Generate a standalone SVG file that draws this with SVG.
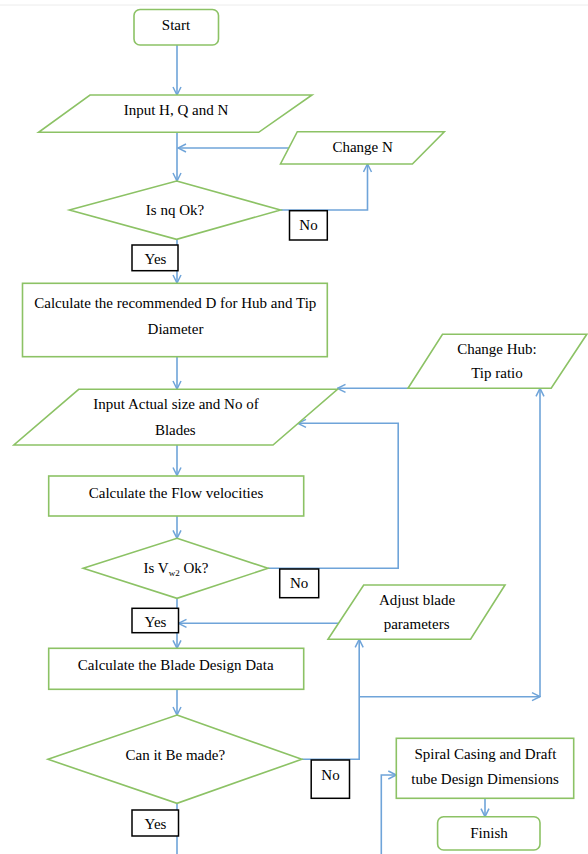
<svg xmlns="http://www.w3.org/2000/svg" width="588" height="854" viewBox="0 0 588 854">
<defs>
<style>
.n{fill:#fff;stroke:#8cc265;stroke-width:1.6}
.b{fill:#fff;stroke:#000;stroke-width:1.5}
.c{fill:none;stroke:#6fa4d9;stroke-width:1.6}
text{font-family:'Liberation Serif','Times New Roman','DejaVu Serif',serif;font-size:15px;fill:#000;text-anchor:middle}
</style>
<marker id="arr" viewBox="0 0 10 10" refX="9" refY="5" markerWidth="10" markerHeight="10" markerUnits="userSpaceOnUse" orient="auto">
<path d="M1,1 L9,5 L1,9" fill="none" stroke="#6fa4d9" stroke-width="1.5"/>
</marker>
</defs>
<rect width="588" height="854" fill="#fff"/>
<line x1="0" y1="5" x2="588" y2="5" stroke="#ececec" stroke-width="1"/>

<g id="connectors">
<line class="c" x1="177" y1="45" x2="177" y2="95" marker-end="url(#arr)"/>
<line class="c" x1="177" y1="132" x2="177" y2="181" marker-end="url(#arr)"/>
<line class="c" x1="289" y1="148" x2="178" y2="148" marker-end="url(#arr)"/>
<polyline class="c" points="280.5,210 367.5,210 367.5,164" marker-end="url(#arr)"/>
<line class="c" x1="177" y1="239" x2="177" y2="245"/>
<line class="c" x1="177" y1="271" x2="177" y2="283" marker-end="url(#arr)"/>
<line class="c" x1="177" y1="357" x2="177" y2="389" marker-end="url(#arr)"/>
<line class="c" x1="408" y1="388.3" x2="337.5" y2="388.3" marker-end="url(#arr)"/>
<polyline class="c" points="268,568.3 398.2,568.3 398.2,423.3 298,423.3" marker-end="url(#arr)"/>
<line class="c" x1="540" y1="696.7" x2="540" y2="388.3" marker-end="url(#arr)"/>
<line class="c" x1="177" y1="445" x2="177" y2="475.5" marker-end="url(#arr)"/>
<line class="c" x1="177" y1="516" x2="177" y2="538.3" marker-end="url(#arr)"/>
<line class="c" x1="177" y1="598.3" x2="177" y2="608.3"/>
<line class="c" x1="338.5" y1="623.3" x2="178.5" y2="623.3" marker-end="url(#arr)"/>
<line class="c" x1="177" y1="632.7" x2="177" y2="648.3" marker-end="url(#arr)"/>
<line class="c" x1="177" y1="689.3" x2="177" y2="715" marker-end="url(#arr)"/>
<polyline class="c" points="301.8,759.3 359.2,759.3 359.2,639.3" marker-end="url(#arr)"/>
<line class="c" x1="359.2" y1="696.7" x2="540" y2="696.7" marker-end="url(#arr)"/>
<line class="c" x1="177" y1="803.3" x2="177" y2="810"/>
<line class="c" x1="177" y1="836" x2="177" y2="854"/>
<polyline class="c" points="381.3,854 381.3,775 396.3,775" marker-end="url(#arr)"/>
<line class="c" x1="485" y1="798.3" x2="485" y2="816.7" marker-end="url(#arr)"/>
</g>

<g id="start">
<rect class="n" x="134" y="9.5" width="84.5" height="35.5" rx="6"/>
<text x="176" y="30">Start</text>
</g>

<g id="input-hqn">
<polygon class="n" points="90,95 312,95 258.7,132.3 38.6,132.3"/>
<text x="176" y="115">Input H, Q and N</text>
</g>

<g id="change-n">
<polygon class="n" points="297.3,131.7 444.3,131.7 412.4,164 280.5,164"/>
<text x="362.6" y="151.5">Change N</text>
</g>

<g id="is-nq-ok">
<polygon class="n" points="176.6,181 280.5,210 176.6,239.3 69.4,210"/>
<text x="175" y="215">Is nq Ok?</text>
</g>

<g id="no-1">
<rect class="b" x="289.5" y="210.7" width="37.8" height="29.3"/>
<text x="308.5" y="230">No</text>
</g>

<g id="yes-1">
<rect class="b" x="132" y="245" width="46" height="25.7"/>
<text x="155.5" y="263.5">Yes</text>
</g>

<g id="calc-d">
<rect class="n" x="22.5" y="283.3" width="304.8" height="73.4"/>
<text x="175.3" y="308.3">Calculate the recommended D for Hub and Tip</text>
<text x="175.5" y="334">Diameter</text>
</g>

<g id="change-hub">
<polygon class="n" points="442.5,334.3 586.8,334.3 551.2,388.3 408,388.3"/>
<text x="497" y="354">Change Hub:</text>
<text x="497" y="378.3">Tip ratio</text>
</g>

<g id="input-actual">
<polygon class="n" points="78.7,389.3 337.5,389.3 273,445 13.9,445"/>
<text x="176" y="409">Input Actual size and No of</text>
<text x="175.3" y="435">Blades</text>
</g>

<g id="calc-flow">
<rect class="n" x="48.7" y="476" width="255" height="40"/>
<text x="176" y="497.7">Calculate the Flow velocities</text>
</g>

<g id="is-vw2-ok">
<polygon class="n" points="177,538.3 268,568.3 177,598.3 83.2,568.3"/>
<text x="176" y="572.7">Is V<tspan font-size="9" dy="3">w2</tspan><tspan dy="-3"> Ok?</tspan></text>
</g>

<g id="no-2">
<rect class="b" x="279.7" y="569" width="39" height="28.7"/>
<text x="299.2" y="588.3">No</text>
</g>

<g id="yes-2">
<rect class="b" x="132" y="608.3" width="46.5" height="24.4"/>
<text x="155.5" y="626.7">Yes</text>
</g>

<g id="adjust-blade">
<polygon class="n" points="363.7,585 505,585 470.6,639.3 328,639.3"/>
<text x="417" y="605">Adjust blade</text>
<text x="416.6" y="629.3">parameters</text>
</g>

<g id="calc-blade">
<rect class="n" x="48.7" y="648.3" width="255" height="41"/>
<text x="175.7" y="670">Calculate the Blade Design Data</text>
</g>

<g id="can-it-be-made">
<polygon class="n" points="177,715 301.8,759.3 177,803.3 48,759.3"/>
<text x="175.3" y="760">Can it Be made?</text>
</g>

<g id="no-3">
<rect class="b" x="311.2" y="760" width="38.3" height="38.3"/>
<text x="330.5" y="780">No</text>
</g>

<g id="yes-3">
<rect class="b" x="132" y="810" width="46.5" height="26"/>
<text x="155.5" y="829.3">Yes</text>
</g>

<g id="spiral-casing">
<rect class="n" x="396.3" y="738.3" width="177.4" height="60"/>
<text x="485.5" y="759">Spiral Casing and Draft</text>
<text x="485" y="784">tube Design Dimensions</text>
</g>

<g id="finish">
<rect class="n" x="437.6" y="816.7" width="102.4" height="33.3" rx="6"/>
<text x="489" y="838.3">Finish</text>
</g>
</svg>
